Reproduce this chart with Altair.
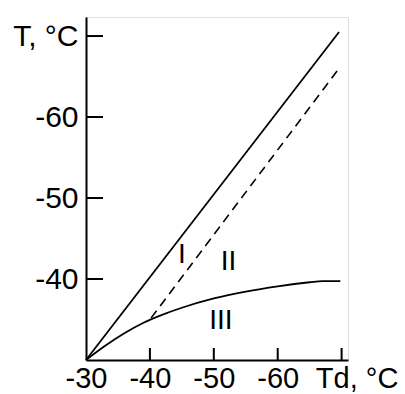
import altair as alt
import pandas as pd

# Line I (solid, T = Td)
td_I = [-30, -69.6]
t_I = [-30, -70.5]
# Line II (dashed)
td_II = [-40.2, -69.4]
t_II = [-35.2, -65.8]
# Curve III
td_III = [-30, -33, -36, -39, -42, -45, -50, -55, -60, -65, -67, -69.8]
t_III = [-30, -31.75, -33.3, -34.6, -35.6, -36.45, -37.6, -38.45, -39.1, -39.6, -39.75, -39.75]
# Region labels
region_labels = ["I", "II", "III"]
region_td = [-45.0, -52.3, -51.1]
region_t = [-43.0, -42.1, -34.8]
# Axis ticks / labels
tick_values = [-40, -50, -60, -70]
label_values = [-30, -40, -50, -60, -70]

W, H = 262, 343
FONT = "Liberation Sans"

xscale = alt.Scale(domain=[-30, -71], nice=False, zero=False)
yscale = alt.Scale(domain=[-30, -72.35], nice=False, zero=False)

xaxis = alt.Axis(
    values=label_values, ticks=False, tickSize=0, grid=False,
    domainColor="black", domainWidth=2,
    labelColor="black", labelFontSize=29, labelFont=FONT,
    labelPadding=4, labelFlush=False, labelOverlap=False,
    labelExpr="datum.value == -70 ? 'Td, °C' : '' + datum.value",
    labelOffset={"condition": {"test": "datum.value == -70", "value": 15}, "value": 0},
    title=None,
)
yaxis = alt.Axis(
    values=tick_values, ticks=False, tickSize=0, grid=False,
    domainColor="black", domainWidth=2,
    labelColor="black", labelFontSize=30, labelFont=FONT,
    labelPadding=8, labelFlush=False, labelOverlap=False,
    labelExpr="datum.value == -70 ? 'T, °C' : '' + datum.value",
    title=None,
)


def X(f):
    return alt.X(f, type="quantitative", scale=xscale, axis=xaxis)


def Y(f):
    return alt.Y(f, type="quantitative", scale=yscale, axis=yaxis)


df_I = pd.DataFrame({"td": td_I, "t": t_I, "o": range(len(td_I))})
df_II = pd.DataFrame({"td": td_II, "t": t_II, "o": range(len(td_II))})
df_III = pd.DataFrame({"td": td_III, "t": t_III, "o": range(len(td_III))})
df_lab = pd.DataFrame({"td": region_td, "t": region_t, "lab": region_labels})
df_ticks = pd.DataFrame({"v": tick_values})

line_I = alt.Chart(df_I).mark_line(color="black", strokeWidth=1.8).encode(
    x=X("td"), y=Y("t"), order="o:Q")
line_II = alt.Chart(df_II).mark_line(color="black", strokeWidth=1.6, strokeDash=[9, 6]).encode(
    x=X("td"), y=Y("t"), order="o:Q")
line_III = alt.Chart(df_III).mark_line(color="black", strokeWidth=1.8, interpolate="monotone").encode(
    x=X("td"), y=Y("t"), order="o:Q")
labels = alt.Chart(df_lab).mark_text(
    font=FONT, fontSize=28, color="black", align="center", baseline="middle").encode(
    x=X("td"), y=Y("t"), text="lab:N")
yticks = alt.Chart(df_ticks).mark_rule(color="black", strokeWidth=2).encode(
    y=Y("v"), x=alt.value(0), x2=alt.value(17))
xticks = alt.Chart(df_ticks).mark_rule(color="black", strokeWidth=2).encode(
    x=X("v"), y=alt.value(H), y2=alt.value(H - 12))

chart = alt.layer(line_I, line_II, line_III, labels, yticks, xticks).properties(
    width=W, height=H,
    autosize=alt.AutoSizeParams(type="none"),
    padding={"left": 86, "top": 17, "right": 405 - 86 - W, "bottom": 394 - 17 - H},
    background="white",
).configure_view(stroke=None).configure(font=FONT)

chart.save("out.html", embed_options={"renderer": "svg", "actions": False})
